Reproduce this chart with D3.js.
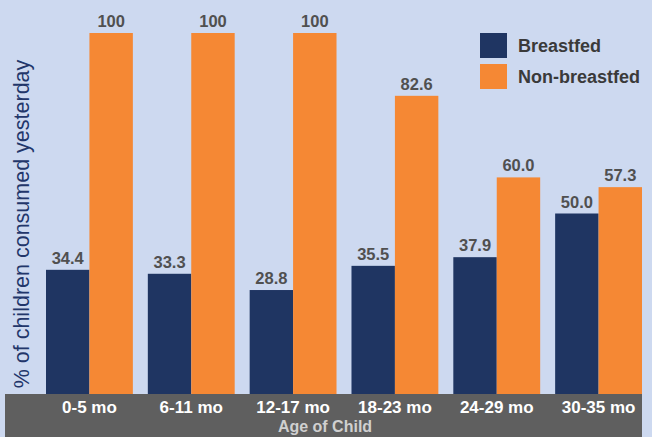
<!DOCTYPE html>
<html>
<head>
<meta charset="utf-8">
<script src="https://cdn.jsdelivr.net/npm/d3@7"></script>
<style>
  html, body { margin: 0; padding: 0; background: #cdd9f0; }
  svg { display: block; font-family: "Liberation Sans", Arial, sans-serif; }
</style>
</head>
<body>
<svg id="chart" width="652" height="437"></svg>
<script>
// Age groups and share of children who consumed the item yesterday (%)
const categories = ["0-5 mo", "6-11 mo", "12-17 mo", "18-23 mo", "24-29 mo", "30-35 mo"];
const seriesNames = ["Breastfed", "Non-breastfed"];
const breastfed = [34.4, 33.3, 28.8, 35.5, 37.9, 50.0];
const nonBreastfed = [100, 100, 100, 82.6, 60.0, 57.3];
const valueLabels = [
  ["34.4", "33.3", "28.8", "35.5", "37.9", "50.0"],
  ["100", "100", "100", "82.6", "60.0", "57.3"]
];

const colors = { "Breastfed": "#1f3562", "Non-breastfed": "#f58834" };

const svg = d3.select("#chart");
const W = 652, H = 437;
const baseY = 394;

svg.append("rect").attr("width", W).attr("height", H).attr("fill", "#cdd9f0");

const x0 = d3.scaleBand().domain(categories).range([46, 642]).paddingInner(15 / 102).paddingOuter(0);
const x1 = d3.scaleBand().domain(seriesNames).range([0, x0.bandwidth()]);
const y = d3.scaleLinear().domain([0, 100]).range([baseY, 33]);

const rows = categories.map((c, i) => ({
  cat: c,
  vals: [
    { s: seriesNames[0], v: breastfed[i], label: valueLabels[0][i] },
    { s: seriesNames[1], v: nonBreastfed[i], label: valueLabels[1][i] }
  ]
}));

// bottom category band
svg.append("rect")
  .attr("x", 5).attr("y", baseY)
  .attr("width", 637).attr("height", H - baseY)
  .attr("fill", "#5f5f5f");

const g = svg.selectAll("g.grp").data(rows).join("g")
  .attr("class", "grp")
  .attr("transform", d => `translate(${x0(d.cat)},0)`);

g.selectAll("rect").data(d => d.vals).join("rect")
  .attr("x", d => x1(d.s))
  .attr("y", d => y(d.v))
  .attr("width", x1.bandwidth())
  .attr("height", d => baseY - y(d.v))
  .attr("fill", d => colors[d.s]);

g.selectAll("text.val").data(d => d.vals).join("text")
  .attr("class", "val")
  .attr("x", d => x1(d.s) + x1.bandwidth() / 2)
  .attr("y", d => y(d.v) - 6)
  .attr("text-anchor", "middle")
  .attr("font-size", 16.5)
  .attr("font-weight", "bold")
  .attr("fill", "#505050")
  .text(d => d.label);

// category labels
svg.selectAll("text.cat").data(categories).join("text")
  .attr("class", "cat")
  .attr("x", d => x0(d) + x0.bandwidth() / 2)
  .attr("y", 413)
  .attr("text-anchor", "middle")
  .attr("font-size", 17)
  .attr("font-weight", "bold")
  .attr("fill", "#ffffff")
  .text(d => d);

svg.append("text")
  .attr("x", 325).attr("y", 432)
  .attr("text-anchor", "middle")
  .attr("font-size", 16)
  .attr("font-weight", "bold")
  .attr("fill", "#d0d0d0")
  .text("Age of Child");

// y axis title
svg.append("text")
  .attr("transform", "translate(29,224) rotate(-90)")
  .attr("text-anchor", "middle")
  .attr("font-size", 21.5)
  .attr("fill", "#22366a")
  .text("% of children consumed yesterday");

// legend
const leg = svg.selectAll("g.leg").data(seriesNames).join("g")
  .attr("class", "leg")
  .attr("transform", (d, i) => `translate(480,${33 + i * 31})`);
leg.append("rect").attr("width", 27).attr("height", 25).attr("fill", d => colors[d]);
leg.append("text")
  .attr("x", 38).attr("y", 19)
  .attr("font-size", 18)
  .attr("font-weight", "bold")
  .attr("fill", "#3a3a3a")
  .text(d => d);
</script>
</body>
</html>
